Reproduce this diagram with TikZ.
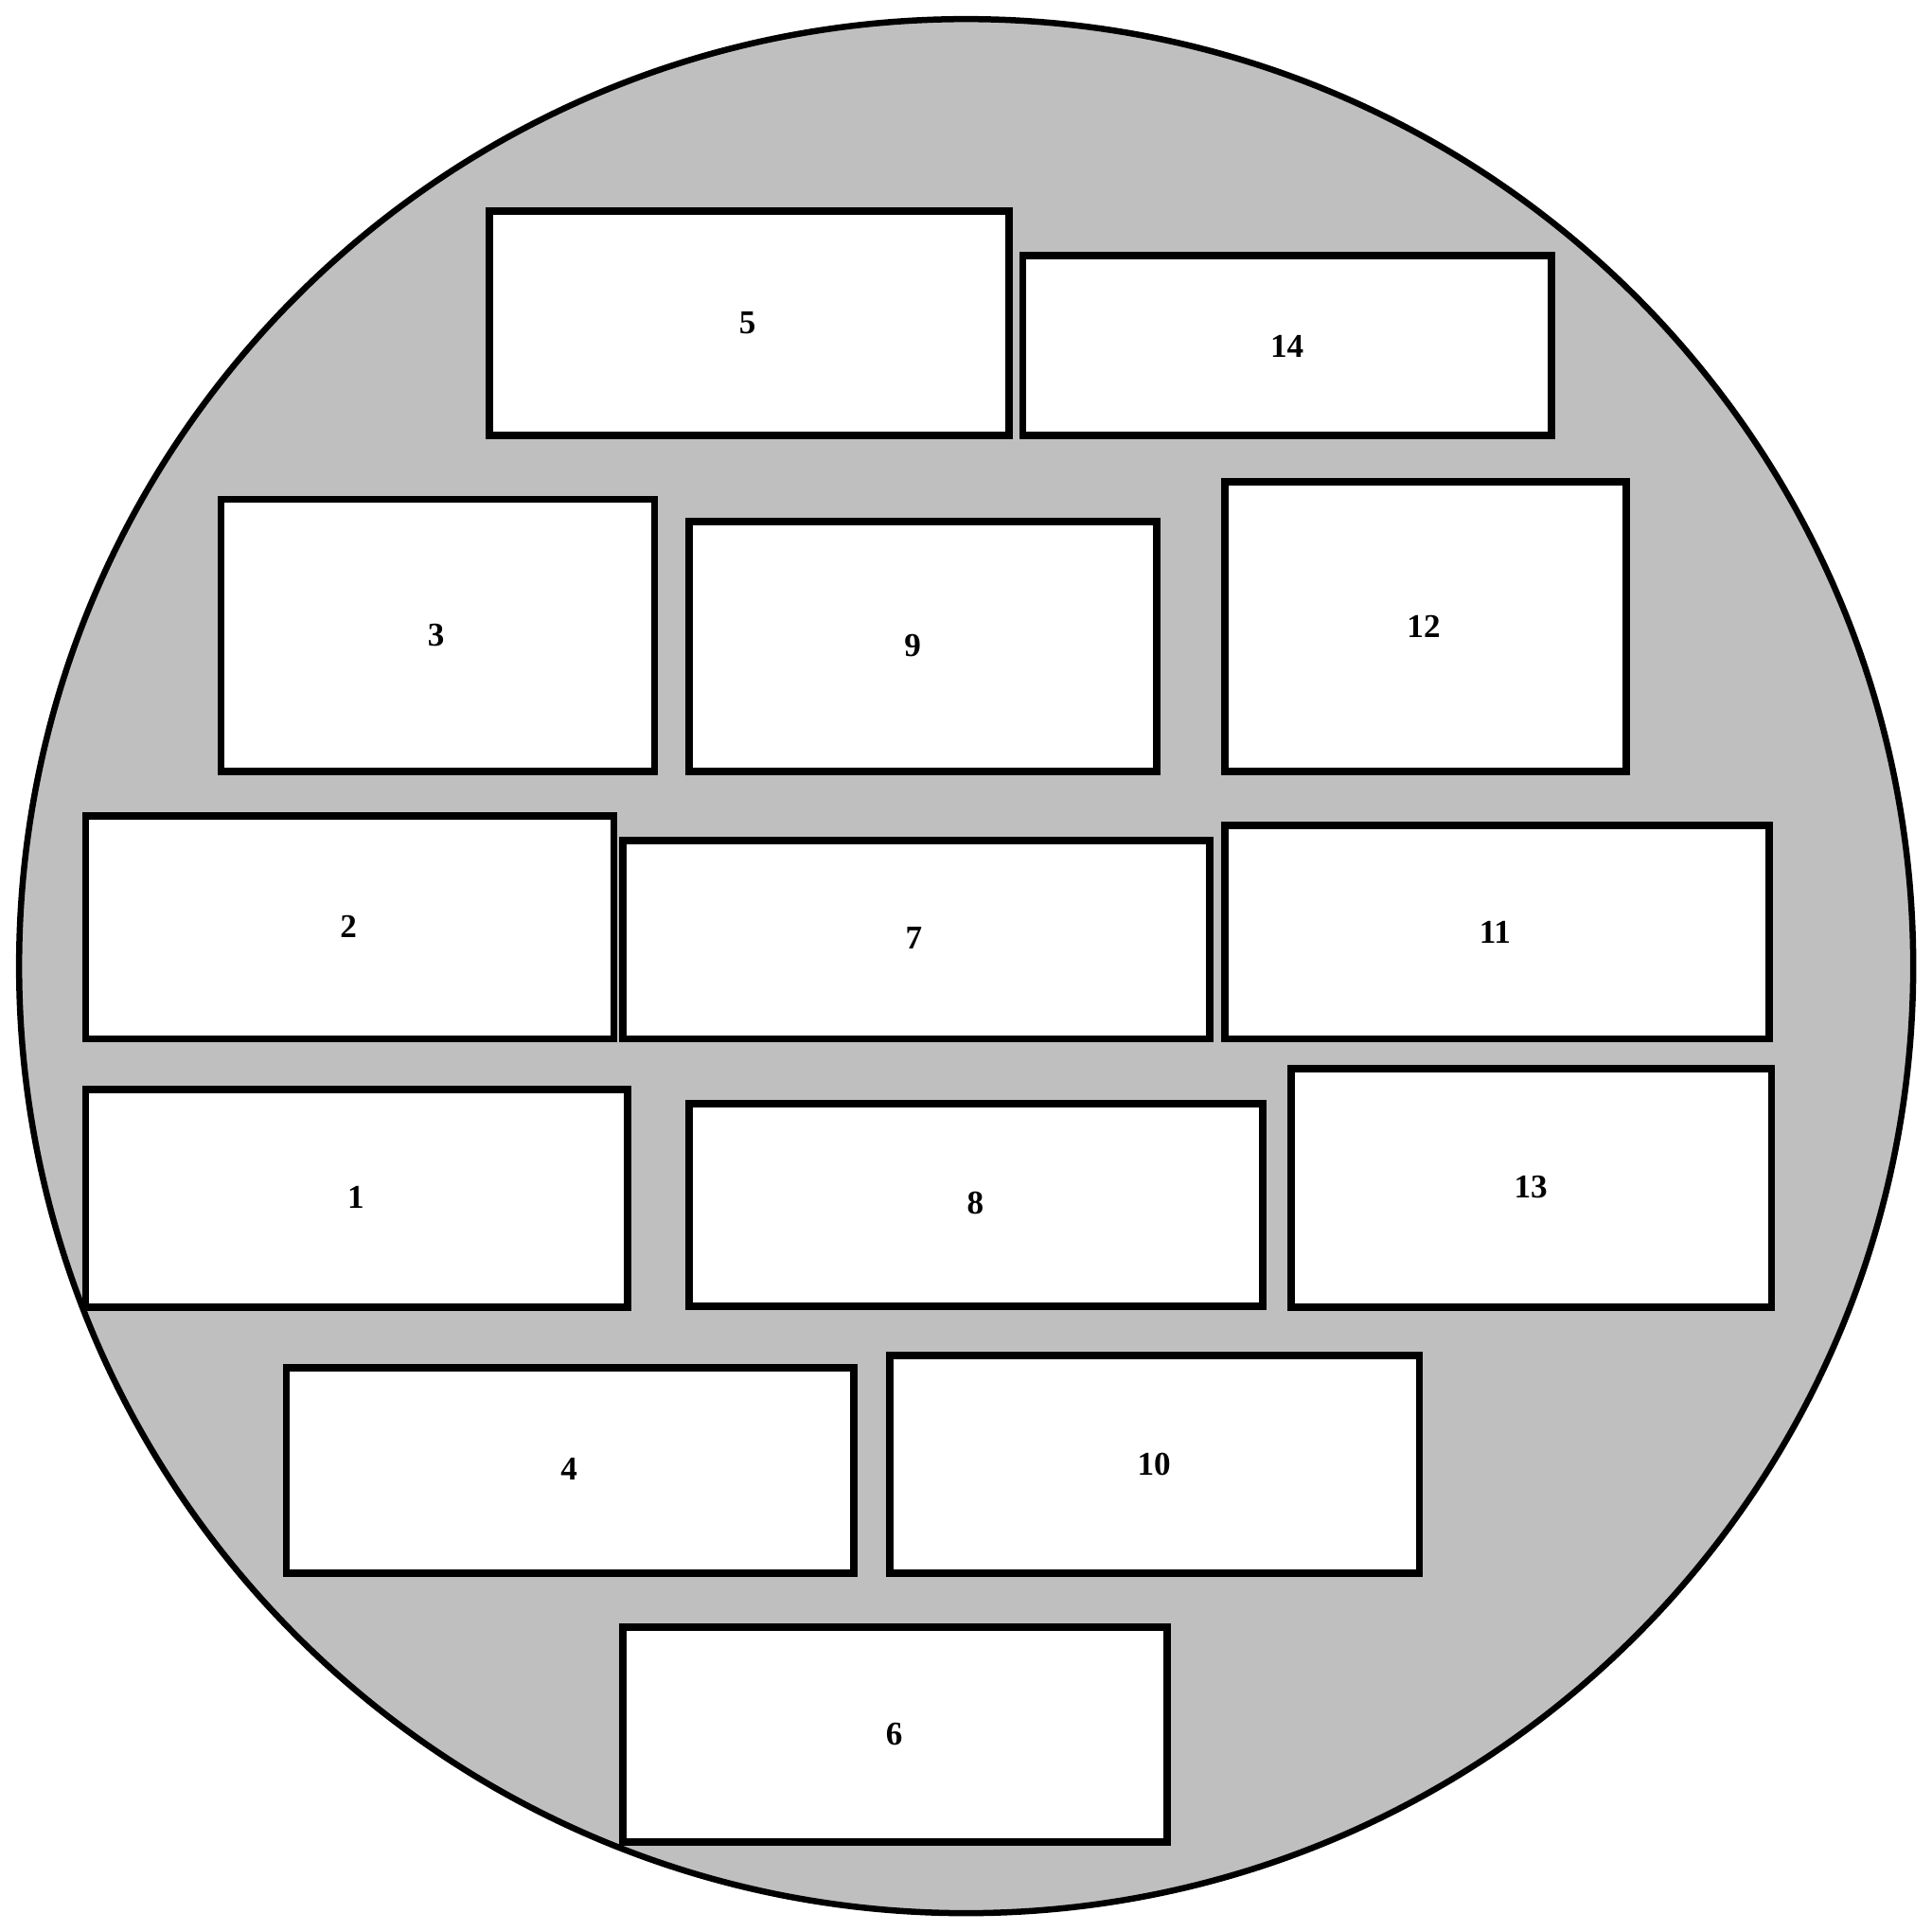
\documentclass[tikz,border=0pt]{standalone}
\usepackage{fontspec}
\setmainfont{Liberation Serif}
\begin{document}
\begin{tikzpicture}[x=1pt,y=-1pt,
  box/.style 2 args={draw=black, fill=white, line width=6pt, inner sep=0pt, outer sep=0pt,
    minimum width={#1pt-3pt}, minimum height={#2pt-3pt}},
  lab/.style={inner sep=0pt, font=\fontsize{27}{27}\selectfont\bfseries}]
\useasboundingbox (0,0) rectangle (1568,1568);
\node[circle, draw=black, fill={rgb,255:red,191;green,191;blue,191}, line width=5pt,
  minimum size=1538pt, inner sep=0pt] (disc) at (784.5,784.5) {};
\node[box={425}{185}] (b5) at (608.5,262.5) {};
\node[box={432}{149}] (b14) at (1045,280.5) {};
\node[box={355}{224}] (b3) at (355.5,516) {};
\node[box={383}{206}] (b9) at (749.5,525) {};
\node[box={329}{238}] (b12) at (1157.5,509) {};
\node[box={432}{184}] (b2) at (284,753) {};
\node[box={480}{164}] (b7) at (744,763) {};
\node[box={445}{176}] (b11) at (1215.5,757) {};
\node[box={443}{180}] (b1) at (289.5,973) {};
\node[box={469}{167}] (b8) at (792.5,978.5) {};
\node[box={393}{197}] (b13) at (1243.5,964.5) {};
\node[box={464}{170}] (b4) at (463,1194) {};
\node[box={433}{180}] (b10) at (937.5,1189) {};
\node[box={445}{177}] (b6) at (726.5,1408.5) {};
\node[lab] (t5) at (607,262) {5};
\node[lab] (t14) at (1045,281) {14};
\node[lab] (t3) at (354,516) {3};
\node[lab] (t9) at (741,524) {9};
\node[lab] (t12) at (1156,509) {12};
\node[lab] (t2) at (283,752) {2};
\node[lab] (t7) at (742,762) {7};
\node[lab] (t11) at (1214,757) {11};
\node[lab] (t1) at (289,972) {1};
\node[lab] (t8) at (792,977) {8};
\node[lab] (t13) at (1243,964) {13};
\node[lab] (t4) at (462,1193) {4};
\node[lab] (t10) at (937,1189) {10};
\node[lab] (t6) at (726,1408) {6};
\end{tikzpicture}
\end{document}
